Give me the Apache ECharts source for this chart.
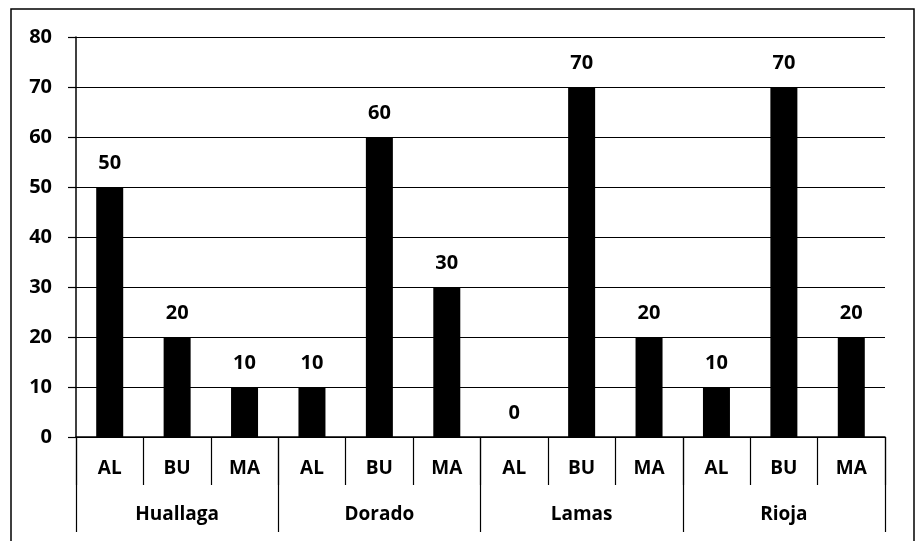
<!DOCTYPE html>
<html>
<head>
<meta charset="utf-8">
<script src="https://cdn.jsdelivr.net/npm/echarts@6/dist/echarts.min.js"></script>
<style>
  html, body { margin: 0; padding: 0; background: #fff; }
  #chart { width: 919px; height: 541px; }
</style>
</head>
<body>
<div id="chart"></div>
<script>
// Sub-categories (per province) and province groups
const subCategories = ['AL', 'BU', 'MA', 'AL', 'BU', 'MA', 'AL', 'BU', 'MA', 'AL', 'BU', 'MA'];
const groups = ['Huallaga', 'Dorado', 'Lamas', 'Rioja'];
const values = [50, 20, 10, 10, 60, 30, 0, 70, 20, 10, 70, 20];
const yTicks = { min: 0, max: 80, interval: 10 };

const FONT = '"Open Sans", Lato, sans-serif';

const chart = echarts.init(document.getElementById('chart'), null, { renderer: 'canvas' });

chart.setOption({
  backgroundColor: '#fff',
  animation: false,
  grid: { left: 76, right: 34, top: 37, bottom: 104, containLabel: false },
  graphic: [{
    type: 'rect',
    shape: { x: 11, y: 9, width: 903, height: 545 },
    style: { fill: 'none', stroke: '#000', lineWidth: 1.5 },
    silent: true
  }],
  xAxis: [
    {
      type: 'category',
      data: subCategories,
      position: 'bottom',
      axisLine: { show: true, lineStyle: { color: '#000', width: 1.5 } },
      axisTick: { show: true, interval: 0, length: 48, lineStyle: { color: '#000', width: 1.2 } },
      axisLabel: { interval: 0, margin: 22, color: '#000', fontFamily: FONT, fontWeight: 'bold', fontSize: 19 },
      splitLine: { show: false }
    },
    {
      type: 'category',
      data: groups,
      position: 'bottom',
      axisLine: { show: false },
      axisTick: { show: true, interval: 0, length: 95, lineStyle: { color: '#000', width: 1.2 } },
      axisLabel: { interval: 0, margin: 68, color: '#000', fontFamily: FONT, fontWeight: 'bold', fontSize: 19 },
      splitLine: { show: false }
    }
  ],
  yAxis: {
    type: 'value',
    min: yTicks.min,
    max: yTicks.max,
    interval: yTicks.interval,
    axisLine: { show: true, lineStyle: { color: '#000', width: 1.5 } },
    axisTick: { show: true, length: 8, lineStyle: { color: '#000', width: 1.2 } },
    axisLabel: { margin: 24, color: '#000', fontFamily: FONT, fontWeight: 'bold', fontSize: 20 },
    splitLine: { show: true, lineStyle: { color: '#000', width: 1.2 } }
  },
  series: [{
    type: 'bar',
    data: values,
    xAxisIndex: 0,
    barWidth: 27,
    itemStyle: { color: '#000' },
    label: {
      show: true,
      position: 'top',
      distance: 14,
      color: '#000',
      fontFamily: FONT,
      fontWeight: 'bold',
      fontSize: 20
    }
  }]
});
</script>
</body>
</html>
